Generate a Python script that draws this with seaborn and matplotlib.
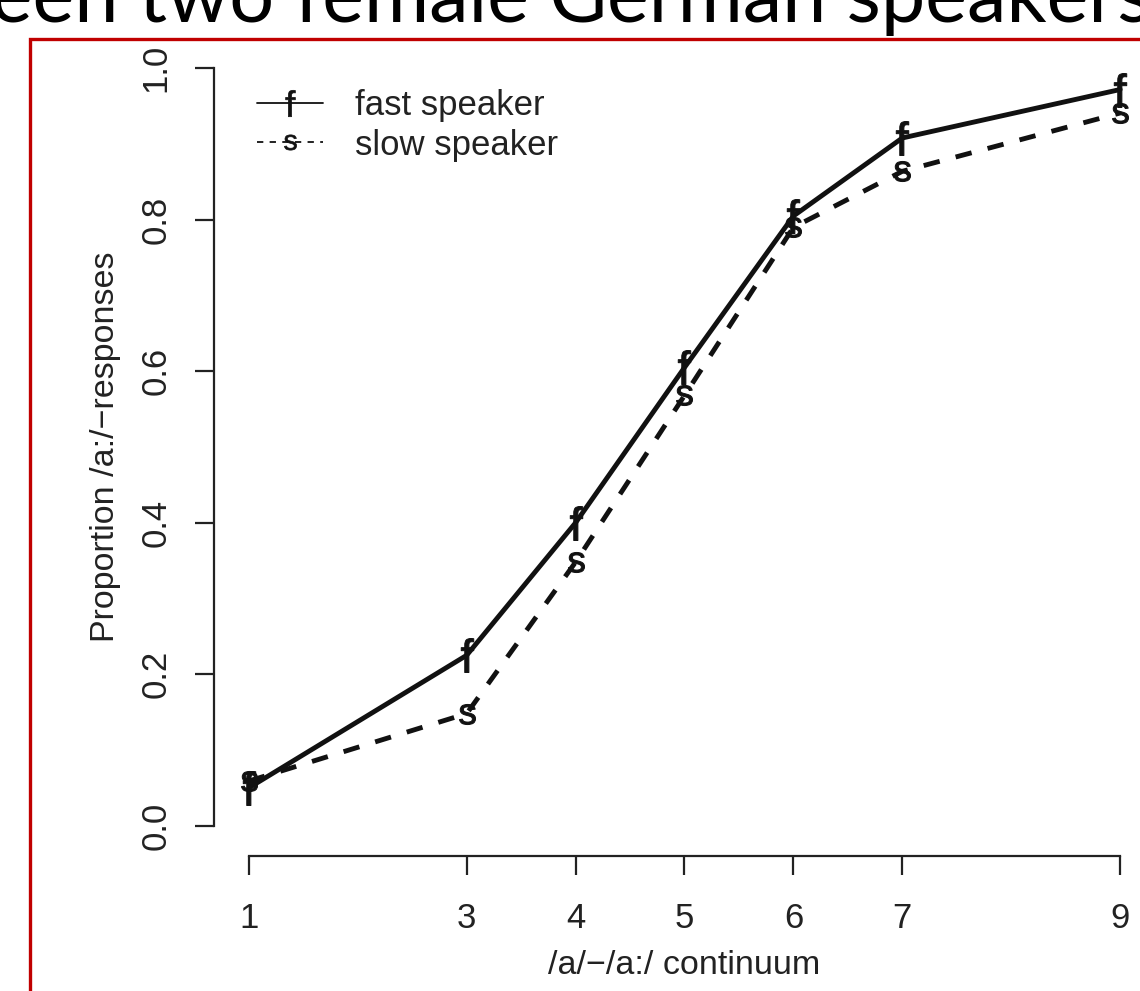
import numpy as np
import pandas as pd
import matplotlib
matplotlib.use("Agg")
import matplotlib.pyplot as plt
import seaborn as sns
from matplotlib.lines import Line2D
from matplotlib.patches import Rectangle

# ---- data ----
continuum = [1, 3, 4, 5, 6, 7, 9]
fast_speaker = [0.050, 0.225, 0.400, 0.605, 0.805, 0.908, 0.972]
slow_speaker = [0.059, 0.148, 0.348, 0.568, 0.790, 0.864, 0.941]
series_names = ["fast speaker", "slow speaker"]
series_glyphs = ["f", "s"]
yticks = [0.0, 0.2, 0.4, 0.6, 0.8, 1.0]
ytick_labels = ["0.0", "0.2", "0.4", "0.6", "0.8", "1.0"]
title_text = "between two female German speakers"
xlabel = "/a/\u2212/a:/ continuum"
ylabel = "Proportion /a:/\u2212responses"

df = pd.DataFrame({
    "x": continuum * 2,
    "y": fast_speaker + slow_speaker,
    "speaker": [series_names[0]] * len(continuum) + [series_names[1]] * len(continuum),
})

sns.set_theme(style="white")
plt.rcParams["font.family"] = ["Liberation Sans", "DejaVu Sans"]
plt.rcParams["mathtext.fontset"] = "custom"
plt.rcParams["mathtext.sf"] = "Liberation Sans"
plt.rcParams["mathtext.rm"] = "Liberation Sans"

W, H = 1140, 991
fig = plt.figure(figsize=(W / 100, H / 100), dpi=100)
fig.patch.set_facecolor("white")

# axes in pixel coordinates (plot region)
L, R, T, B = 214, 1155, 38, 856
ax = fig.add_axes([L / W, 1 - B / H, (R - L) / W, (B - T) / H])
ax.set_facecolor("white")

lw = 3.5
sns.lineplot(data=df, x="x", y="y", style="speaker", color="#111111",
             dashes={series_names[0]: "", series_names[1]: (3.4, 3.4)},
             linewidth=lw, legend=False, ax=ax, estimator=None, sort=False)

glyph_sizes = {"f": 24.5, "s": 14.5}
for name, g in zip(series_names, series_glyphs):
    sub = df[df["speaker"] == name]
    sns.scatterplot(data=sub, x="x", y="y", marker=r"$\mathsf{%s}$" % g,
                    s=glyph_sizes[g] ** 2, color="#111111", linewidth=0.7,
                    edgecolor="#111111", legend=False, ax=ax, zorder=5)

ax.set_xlim(0.68, 9.32)
ax.set_ylim(-0.04, 1.04)
ax.set_xticks(continuum)
ax.set_xticklabels([str(v) for v in continuum])
ax.set_yticks(yticks)
ax.set_yticklabels(ytick_labels, rotation=90, va="center")

for s in ["top", "right"]:
    ax.spines[s].set_visible(False)
for s in ["left", "bottom"]:
    ax.spines[s].set_color("#222222")
    ax.spines[s].set_linewidth(1.6)
ax.spines["bottom"].set_bounds(1, 9)
ax.spines["left"].set_bounds(0, 1)

ax.tick_params(axis="both", direction="out", length=14, width=1.6,
               color="#222222", labelsize=25, labelcolor="#222222", pad=19,
               bottom=True, left=True)
ax.tick_params(axis="y", pad=16)

ax.set_xlabel(xlabel, fontsize=24.5, color="#222222", labelpad=11)
ax.set_ylabel(ylabel, fontsize=24.5, color="#222222", labelpad=13)

handles = [
    Line2D([], [], color="#111111", lw=1.3, linestyle="-",
           marker=r"$\mathsf{f}$", markersize=19, markeredgewidth=0.5),
    Line2D([], [], color="#111111", lw=1.3, linestyle=(0, (3.5, 3.5)),
           marker=r"$\mathsf{s}$", markersize=11, markeredgewidth=0.5),
]
ax.legend(handles, series_names, loc="upper left",
          bbox_to_anchor=(240 / W, 1 - 72 / H), bbox_transform=fig.transFigure,
          frameon=False, fontsize=25, handlelength=1.9, handletextpad=0.9,
          labelspacing=0.18, borderpad=0, numpoints=1,
          labelcolor="#222222")

# slide decorations
fig.add_artist(Rectangle((30 / W, -0.2), 2.0, 0.2 + (1 - 39 / H),
                         transform=fig.transFigure, fill=False,
                         edgecolor="#C00000", linewidth=2.4))
fig.text(1152 / W, 1 - 22 / H, title_text, ha="right", va="baseline",
         fontsize=57, family=["Lato", "DejaVu Sans"], color="black")

fig.savefig("out.png", dpi=100, facecolor="white")
